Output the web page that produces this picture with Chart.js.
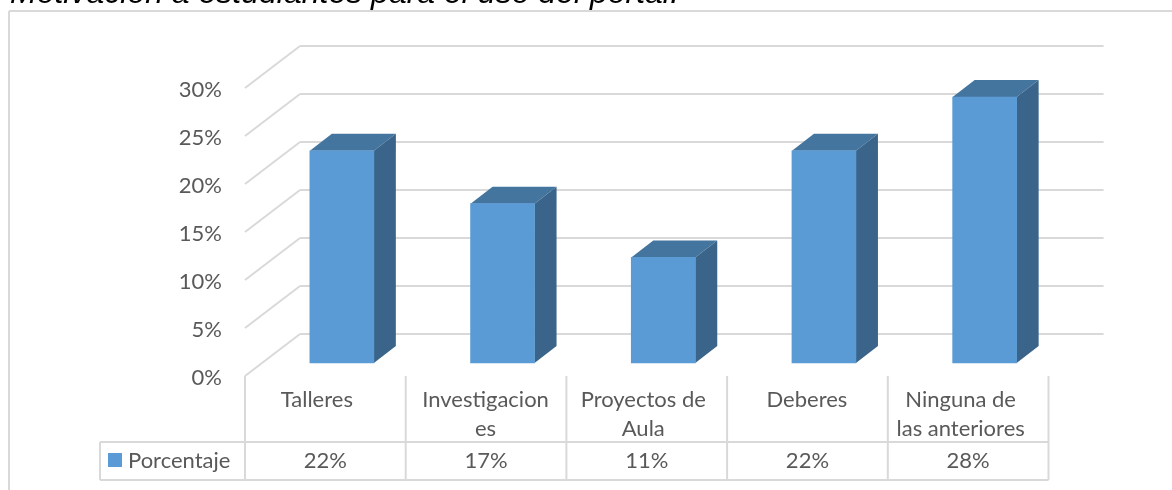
<!DOCTYPE html>
<html>
<head>
<meta charset="utf-8">
<style>html,body{margin:0;padding:0;background:#fff;overflow:hidden}canvas{display:block}</style>
<script src="https://cdn.jsdelivr.net/npm/chart.js@4"></script>
</head>
<body>
<canvas id="c" width="1172" height="490"></canvas>
<script>
const categories = [["Talleres"], ["Investigacion", "es"], ["Proyectos de", "Aula"], ["Deberes"], ["Ninguna de", "las anteriores"]];
const seriesName = "Porcentaje";
const values = [22.1, 16.6, 11, 22.1, 27.7];
const tableLabels = ["22%", "17%", "11%", "22%", "28%"];
const titleText = "Motivación a estudiantes para el uso del portal.";
const labelNudge = [-25, -17, -20, -17, -24];

const FONT = 'Lato, "Open Sans", sans-serif';
const FS = 22;
const TXT = '#595959', GRID = '#d9d9d9';
const FRONT = '#5b9bd5', TOP = '#44759f', SIDE = '#3a6489';
const PX = 9.6, BASE_Y = 363, FRONT_Y = 376, AREA_TOP = 70;
const SHIFT = 16.5;              // floor front edge sits left of the bar plane
const WALL = {dx: 55, dy: -42};  // wall depth
const BOX = {dx: 22, dy: -17};   // bar depth
const TABLE = {left: 100, top: 442, bottom: 480};
const TICK_DROP = 2;

function seg(ctx, x1, y1, x2, y2) { ctx.beginPath(); ctx.moveTo(x1, y1); ctx.lineTo(x2, y2); ctx.stroke(); }

const scene = {
  id: 'scene',
  beforeDraw(chart) {
    chart.scales.x.getLabelItems().forEach((it, i) => {
      if (!it._moved) { it.options.translation[0] += labelNudge[i]; it._moved = true; }
    });
    chart.scales.y2.getLabelItems().forEach(it => {
      if (!it._moved) { it.options.translation[1] += TICK_DROP; it._moved = true; }
    });
  },
  beforeDatasetsDraw(chart) {
    const {ctx, scales} = chart, y2 = scales.y2, x = scales.x;
    const cell = x.getPixelForTick(1) - x.getPixelForTick(0);
    const left = x.getPixelForTick(0) - cell / 2 - SHIFT;
    const right = left + cell * values.length;
    ctx.save();
    ctx.lineWidth = 2; ctx.strokeStyle = GRID;
    seg(ctx, 9, 11, 1172, 11); seg(ctx, 9, 11, 9, 490);
    for (const v of y2.ticks.map(t => t.value)) {
      const py = y2.getPixelForValue(v);
      seg(ctx, left, py, left + WALL.dx, py + WALL.dy);
      seg(ctx, left + WALL.dx, py + WALL.dy, right + WALL.dx, py + WALL.dy);
    }
    ctx.restore();
    ctx.save();
    ctx.font = 'italic 32px "Liberation Sans", sans-serif';
    ctx.fillStyle = '#000'; ctx.textBaseline = 'alphabetic';
    ctx.fillText(titleText, 10, 3);
    ctx.restore();
    ctx.save();
    chart.getDatasetMeta(0).data.forEach(b => {
      const l = b.x - b.width / 2, r = b.x + b.width / 2, t = b.y, bt = b.base;
      ctx.fillStyle = TOP;
      ctx.beginPath(); ctx.moveTo(l, t); ctx.lineTo(l + BOX.dx, t + BOX.dy); ctx.lineTo(r + BOX.dx, t + BOX.dy); ctx.lineTo(r, t); ctx.closePath(); ctx.fill();
      ctx.fillStyle = SIDE;
      ctx.beginPath(); ctx.moveTo(r, t); ctx.lineTo(r + BOX.dx, t + BOX.dy); ctx.lineTo(r + BOX.dx, bt + BOX.dy); ctx.lineTo(r, bt); ctx.closePath(); ctx.fill();
    });
    ctx.restore();
  },
  afterDraw(chart) {
    const {ctx, scales} = chart, x = scales.x;
    const cell = x.getPixelForTick(1) - x.getPixelForTick(0);
    const left = x.getPixelForTick(0) - cell / 2 - SHIFT;
    ctx.save();
    ctx.lineWidth = 2; ctx.strokeStyle = GRID;
    for (let i = 0; i <= values.length; i++) seg(ctx, left + cell * i, FRONT_Y, left + cell * i, TABLE.bottom);
    const right = left + cell * values.length;
    seg(ctx, TABLE.left, TABLE.top, right, TABLE.top);
    seg(ctx, TABLE.left, TABLE.bottom, right, TABLE.bottom);
    seg(ctx, TABLE.left, TABLE.top, TABLE.left, TABLE.bottom);
    ctx.fillStyle = TXT; ctx.font = FS + 'px ' + FONT;
    ctx.textAlign = 'center'; ctx.textBaseline = 'middle';
    tableLabels.forEach((s, i) => ctx.fillText(s, left + cell * (i + .5), 461));
    ctx.fillStyle = FRONT; ctx.fillRect(108, 453, 14, 14);
    ctx.fillStyle = TXT; ctx.textAlign = 'left';
    ctx.fillText(seriesName, 128, 461);
    ctx.restore();
  }
};

new Chart(document.getElementById('c'), {
  type: 'bar',
  data: {
    labels: categories,
    datasets: [{label: seriesName, data: values, backgroundColor: FRONT, barThickness: 64, yAxisID: 'y'}]
  },
  plugins: [scene],
  options: {
    responsive: false, animation: false,
    layout: {padding: {top: AREA_TOP, right: 107, left: 0, bottom: 0}},
    plugins: {legend: {display: false}, tooltip: {enabled: false}},
    scales: {
      x: {
        offset: true,
        grid: {display: false, drawTicks: false}, border: {display: false},
        ticks: {color: TXT, font: {family: FONT, size: FS, lineHeight: 1.32}, padding: 9, maxRotation: 0, minRotation: 0, autoSkip: false},
        afterFit(s) { s.height = 490 - FRONT_Y; }
      },
      y: {
        display: false,
        min: -(FRONT_Y - BASE_Y) / PX,
        max: (BASE_Y - AREA_TOP) / PX
      },
      y2: {
        position: 'left',
        min: 0,
        max: (FRONT_Y - AREA_TOP) / PX,
        grid: {display: false, drawTicks: false}, border: {display: false},
        ticks: {stepSize: 5, includeBounds: false, color: TXT, font: {family: FONT, size: FS}, padding: 39.5, callback: v => v + '%'},
        afterFit(s) { s.width = 261.5; }
      }
    }
  }
});
</script>
</body>
</html>
